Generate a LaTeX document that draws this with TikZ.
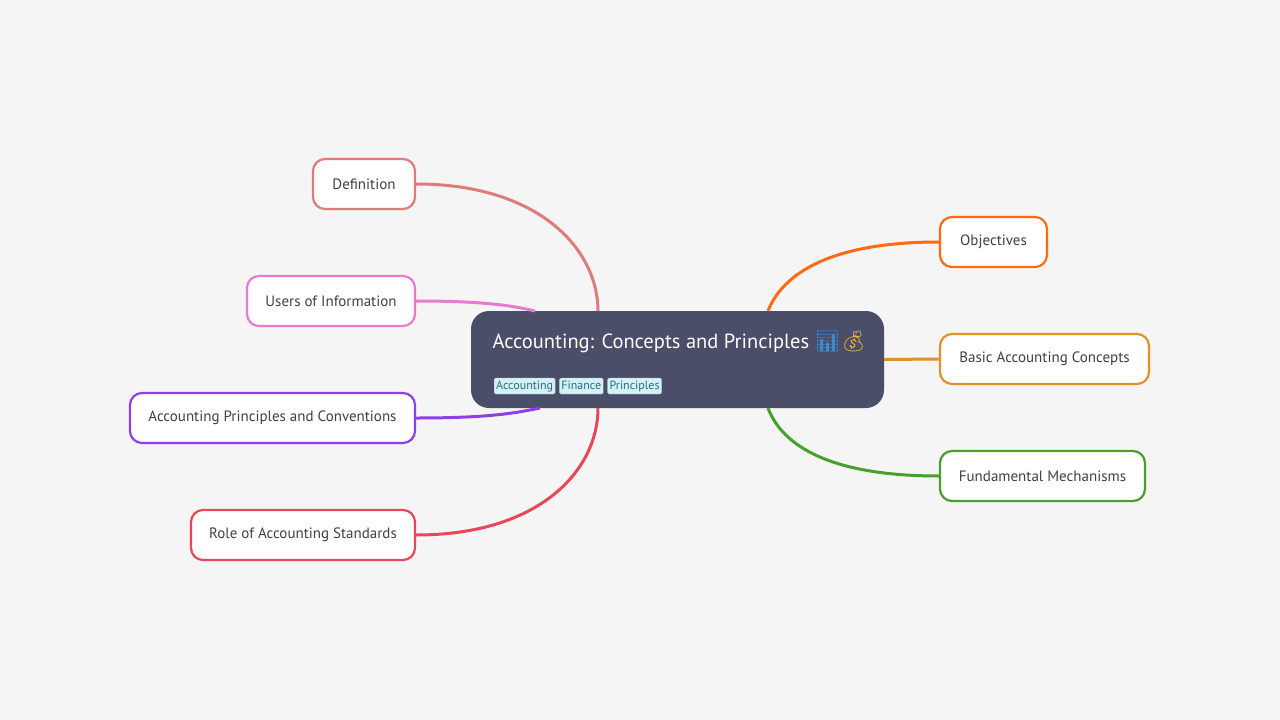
\documentclass[tikz,border=0pt]{standalone}
\usepackage{fontspec}
\usetikzlibrary{positioning}
\setmainfont{PT Sans}
\newfontfamily\emojifont{Noto Emoji}
\definecolor{bg}{HTML}{F5F5F5}
\definecolor{hub}{HTML}{4A4E69}
\definecolor{tagfill}{HTML}{D5F0F7}
\definecolor{tagtext}{HTML}{2A6F80}
\definecolor{cdef}{HTML}{E07B7B}
\definecolor{cuse}{HTML}{E87AD0}
\definecolor{cacp}{HTML}{8E3FE8}
\definecolor{crole}{HTML}{E8475A}
\definecolor{cobj}{HTML}{FF6A13}
\definecolor{cbas}{HTML}{E0912A}
\definecolor{cfun}{HTML}{47A02E}
\definecolor{cbag}{HTML}{F2B833}
\tikzset{
  leaf/.style={draw=#1, line width=2.2pt, fill=white, rounded corners=12pt,
    minimum height=50pt, inner xsep=8pt, font=\fontsize{15}{18}\selectfont, text=black!75},
  branch/.style={draw=#1, line width=3pt},
  tag/.style={fill=tagfill, draw=tagtext!40, rounded corners=1.5pt, inner sep=2pt,
    text height=9pt, text depth=3pt, text=tagtext, font=\fontsize{12}{14}\selectfont}
}
\begin{document}
\begin{tikzpicture}[x=1pt,y=-1pt]
	\fill[bg] (0,0) rectangle (1280,720);
	\useasboundingbox (0,0) rectangle (1280,720);

	% central topic
	\node[fill=hub, rounded corners=18pt, minimum width=413pt, minimum height=97pt] (hub) at (677.5,359.5) {};
	\node[anchor=west, text=white, font=\fontsize{20.5}{24}\selectfont] (title) at (489,342)
		{Accounting: Concepts and Principles {\emojifont\color{cyan!60!blue!80}📊\color{cbag}💰}};
	\node[tag, anchor=west] (t1) at (494,386) {Accounting};
	\node[tag, right=4pt of t1] (t2) {Finance};
	\node[tag, right=4pt of t2] (t3) {Principles};

	% left topics
	\node[leaf=cdef, minimum width=102pt] (def) at (364,184) {Definition};
	\node[leaf=cuse, minimum width=168pt] (use) at (331,301) {Users of Information};
	\node[leaf=cacp, minimum width=285pt] (acp) at (272.5,418) {Accounting Principles and Conventions};
	\node[leaf=crole, minimum width=224pt] (role) at (303,535) {Role of Accounting Standards};

	% right topics
	\node[leaf=cobj, minimum width=107pt] (obj) at (993.5,242) {Objectives};
	\node[leaf=cbas, minimum width=209pt] (bas) at (1044.5,359) {Basic Accounting Concepts};
	\node[leaf=cfun, minimum width=205pt] (fun) at (1042.5,476) {Fundamental Mechanisms};

	\coordinate (hdef) at (598,311);
	\coordinate (huse) at (535,311);
	\coordinate (hacp) at (540,408);
	\coordinate (hrole) at (598,408);
	\coordinate (hobj) at (768,311);
	\coordinate (hfun) at (768,408);

	\draw[branch=cdef] (def.east) .. controls (540,184) and (598,250) .. (hdef);
	\draw[branch=cuse] (use.east) .. controls (480,301) and (510,305) .. (huse);
	\draw[branch=cacp] (acp.east) .. controls (490,418) and (515,413) .. (hacp);
	\draw[branch=crole] (role.east) .. controls (540,535) and (598,470) .. (hrole);
	\draw[branch=cobj] (obj.west) .. controls (820,242) and (780,280) .. (hobj);
	\draw[branch=cbas] (bas.west) -- (hub.east);
	\draw[branch=cfun] (fun.west) .. controls (820,476) and (780,440) .. (hfun);
\end{tikzpicture}
\end{document}
